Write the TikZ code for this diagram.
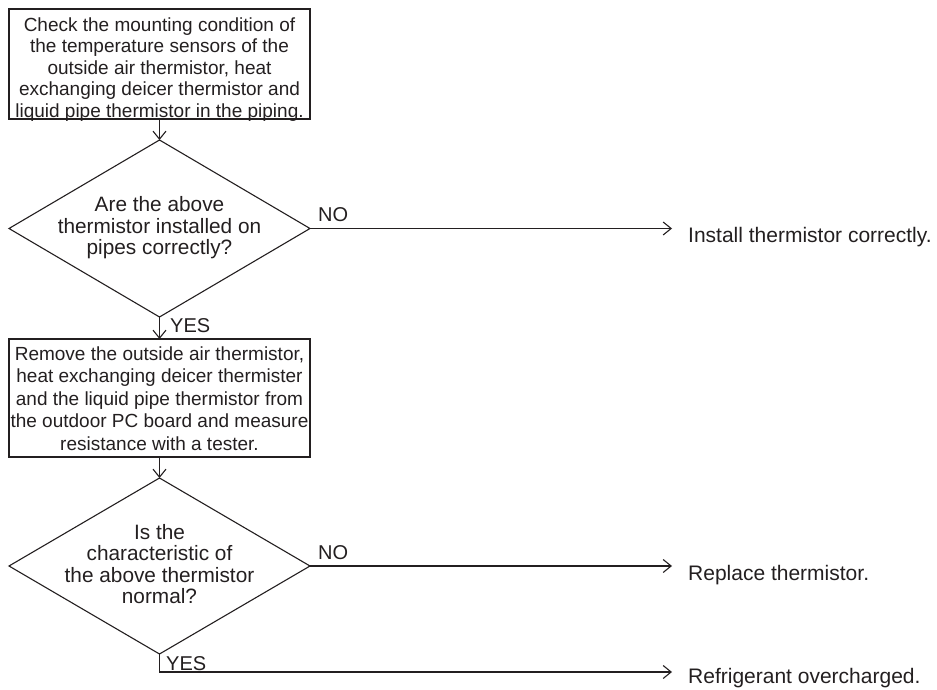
\documentclass[tikz,border=0pt]{standalone}
\usepackage{fontspec}
\setmainfont{Liberation Sans}
\usetikzlibrary{arrows.meta,shapes.geometric}
\definecolor{ink}{HTML}{231F20}
\begin{document}
\begin{tikzpicture}[x=1pt,y=-1pt,
  stepbox/.style={draw=ink, line width=1.1pt, rectangle, minimum width=301pt, inner sep=0pt, outer sep=0pt},
  decide/.style={draw=ink, line width=1.1pt, diamond, minimum width=301pt, inner sep=0pt, outer sep=0pt},
  boxtext/.style={font=\fontsize{19}{21.6}\selectfont, text=ink, align=center, inner sep=0pt, anchor=base},
  boxtextb/.style={font=\fontsize{19}{22.5}\selectfont, text=ink, align=center, inner sep=0pt, anchor=base},
  dtext/.style={font=\fontsize{20.8}{21.5}\selectfont, text=ink, align=center, inner sep=0pt, anchor=base},
  lbl/.style={font=\fontsize{20}{22}\selectfont, text=ink, inner sep=0pt, anchor=base west},
  result/.style={font=\fontsize{21}{24}\selectfont, text=ink, inner sep=0pt, anchor=base west},
  flow/.style={draw=ink, line width=1.1pt, -{Straight Barb[length=8pt,width=13pt]}},
  line/.style={draw=ink, line width=1.1pt}
]
\useasboundingbox (0,0) rectangle (937,690);

% boxes and diamonds
\node[stepbox, minimum height=110pt] (b1) at (159.5,64) {};
\node[decide, minimum height=177pt] (d1) at (159.5,228.5) {};
\node[stepbox, minimum height=118pt] (b2) at (159.5,398) {};
\node[decide, minimum height=176pt] (d2) at (159.5,566) {};

% texts inside (anchored at the baseline of the last line)
\node[boxtext] (t1) at (159.5,117.5) {Check the mounting condition of\\the temperature sensors of the\\outside air thermistor, heat\\exchanging deicer thermistor and\\liquid pipe thermistor in the piping.};
\node[dtext] (t2) at (159.5,254.5) {Are the above\\thermistor installed on\\pipes correctly?};
\node[boxtextb] (t3) at (159.5,450) {Remove the outside air thermistor,\\heat exchanging deicer thermister\\and the liquid pipe thermistor from\\the outdoor PC board and measure\\resistance with a tester.};
\node[dtext] (t4) at (159.5,603.5) {Is the\\characteristic of\\the above thermistor\\normal?};

% outcomes
\coordinate (e1) at (672,228.5);
\coordinate (e2) at (672,566);
\coordinate (c3) at (159.5,672);
\coordinate (e3) at (672,672);
\node[result] (r1) at (688,242) {Install thermistor correctly.};
\node[result] (r2) at (688,580) {Replace thermistor.};
\node[result] (r3) at (688,683) {Refrigerant overcharged.};

% labels
\node[lbl] (no1) at (318,221) {NO};
\node[lbl] (no2) at (318,559) {NO};
\node[lbl] (yes1) at (170,332) {YES};
\node[lbl] (yes2) at (166,670) {YES};

% connectors
\draw[flow] (b1.south) -- (d1.north);
\draw[flow] (d1.south) -- (b2.north);
\draw[flow] (b2.south) -- (d2.north);
\draw[flow] (d1.east) -- (e1);
\draw[flow] (d2.east) -- (e2);
\draw[flow] (d2.south) -- (c3) -- (e3);
\end{tikzpicture}
\end{document}
